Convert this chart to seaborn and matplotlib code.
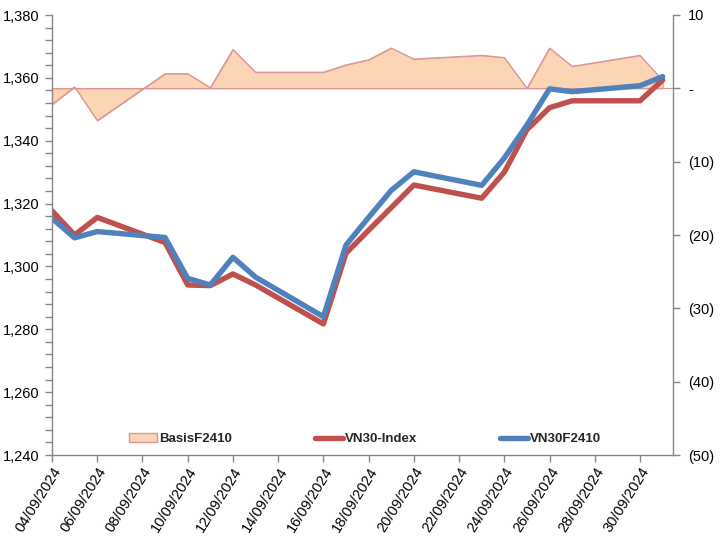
import matplotlib
matplotlib.use("Agg")
import matplotlib.pyplot as plt
import matplotlib.dates as mdates
from matplotlib.patches import Patch
from matplotlib.lines import Line2D
from matplotlib.ticker import FuncFormatter, MultipleLocator, FixedLocator
import seaborn as sns
import pandas as pd

dates = ['04/09/2024', '05/09/2024', '06/09/2024', '09/09/2024', '10/09/2024',
         '11/09/2024', '12/09/2024', '13/09/2024', '16/09/2024', '17/09/2024',
         '18/09/2024', '19/09/2024', '20/09/2024', '23/09/2024', '24/09/2024',
         '25/09/2024', '26/09/2024', '27/09/2024', '30/09/2024', '01/10/2024']
vn30_index = [1317.7, 1310.0, 1315.6, 1307.6, 1294.1, 1293.9, 1297.6, 1294.1, 1281.7, 1304.2,
              1311.5, 1318.7, 1325.9, 1321.7, 1330.0, 1343.5, 1350.5, 1352.7, 1352.7, 1359.3]
vn30f2410 = [1315.3, 1309.1, 1311.1, 1309.2, 1296.2, 1294.1, 1302.9, 1296.6, 1284.0, 1306.8,
             1315.6, 1324.2, 1330.1, 1325.8, 1334.5, 1345.0, 1356.5, 1355.6, 1357.5, 1360.4]
basis_f2410 = [-2.2, 0.2, -4.4, 2.0, 2.0, 0.1, 5.3, 2.2, 2.2, 3.2,
               3.9, 5.5, 4.0, 4.5, 4.2, 0.0, 5.5, 3.0, 4.5, 1.1]
series_names = ['BasisF2410', 'VN30-Index', 'VN30F2410']

df = pd.DataFrame({
    'date': pd.to_datetime(dates, format='%d/%m/%Y'),
    'vn30': vn30_index,
    'vn30f': vn30f2410,
    'basis': basis_f2410,
})

sns.set_style("white")
plt.rcParams['font.family'] = ['Liberation Sans', 'DejaVu Sans']

RED = '#C0504D'
BLUE = '#4F81BD'
FILL = '#FCD5B5'
EDGE = '#D99694'
GRAY = '#868686'

fig = plt.figure(figsize=(7.27, 5.37), dpi=100)
ax = fig.add_axes([52 / 727, 1 - 455 / 537, 621 / 727, 440 / 537])
ax2 = ax.twinx()

# area on right axis (behind)
ax2.fill_between(df['date'], df['basis'], 0, facecolor=FILL, edgecolor=EDGE, linewidth=0.7)
ax2.plot(df['date'], df['basis'], color=EDGE, linewidth=0.8)
ax2.axhline(0, color=EDGE, linewidth=0.8)

# lines on left axis (front)
ax.set_zorder(ax2.get_zorder() + 1)
ax.patch.set_visible(False)
sns.lineplot(data=df, x='date', y='vn30', ax=ax, color=RED, linewidth=3.9,
             solid_joinstyle='round', solid_capstyle='round')
sns.lineplot(data=df, x='date', y='vn30f', ax=ax, color=BLUE, linewidth=3.9,
             solid_joinstyle='round', solid_capstyle='round')

xmin = pd.Timestamp('2024-09-04')
xmax = pd.Timestamp('2024-10-01') + pd.Timedelta(hours=11)
ax.set_xlim(xmin, xmax)
ax.set_ylim(1240, 1380)
ax2.set_ylim(-50, 10)

ax.set_xlabel('')
ax.set_ylabel('')
ax2.set_ylabel('')

ticks = pd.date_range('2024-09-04', '2024-09-30', freq='2D')
ax.xaxis.set_major_locator(FixedLocator(mdates.date2num(ticks)))
ax.xaxis.set_major_formatter(mdates.DateFormatter('%d/%m/%Y'))
plt.setp(ax.get_xticklabels(), rotation=58, ha='right', rotation_mode='anchor')

ax.yaxis.set_major_locator(MultipleLocator(20))
ax.yaxis.set_minor_locator(MultipleLocator(4))
ax.yaxis.set_major_formatter(FuncFormatter(lambda v, p: f'{v:,.0f}'))

def rfmt(v, p):
    if abs(v) < 1e-9:
        return '-'
    if v < 0:
        return f'({abs(v):.0f})'
    return f'{v:.0f}'
ax2.yaxis.set_major_locator(MultipleLocator(10))
ax2.yaxis.set_major_formatter(FuncFormatter(rfmt))

for a in (ax, ax2):
    for s in a.spines.values():
        s.set_color(GRAY)
        s.set_linewidth(1.0)
    a.spines['top'].set_visible(False)
ax.spines['right'].set_visible(False)
ax2.spines['left'].set_visible(False)
ax2.spines['bottom'].set_visible(False)

ax.tick_params(axis='both', which='both', direction='out', length=5, width=1,
               color=GRAY, labelsize=10.5, labelcolor='black')
ax.tick_params(axis='x', pad=2)
ax.tick_params(axis='y', which='both', left=True, pad=4)
ax.tick_params(axis='x', which='both', bottom=True)
ax2.tick_params(axis='y', which='both', direction='out', length=5, width=1,
                color=GRAY, labelsize=10.5, labelcolor='black', right=True, pad=6)

handles = [
    Patch(facecolor=FILL, edgecolor=EDGE, linewidth=1.0),
    Line2D([0], [0], color=RED, linewidth=3.9, solid_capstyle='round'),
    Line2D([0], [0], color=BLUE, linewidth=3.9, solid_capstyle='round'),
]
leg = ax.legend(handles, series_names, loc='center', bbox_to_anchor=(0.504, 0.036),
                ncol=3, frameon=False, handlelength=2.1, handletextpad=0.15,
                columnspacing=6.3, prop={'weight': 'bold', 'size': 9.5})

fig.savefig('out.png', dpi=100)
